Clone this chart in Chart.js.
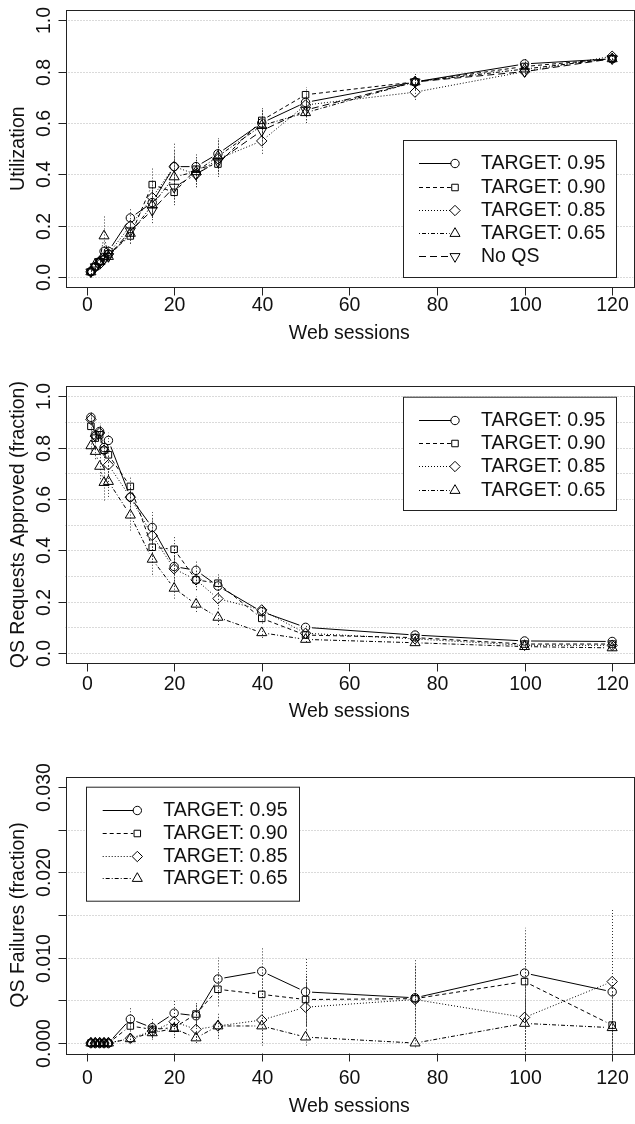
<!DOCTYPE html>
<html>
<head>
<meta charset="utf-8">
<script src="https://cdn.jsdelivr.net/npm/chart.js@4.4.1/dist/chart.umd.min.js"></script>
<style>
  html, body { margin: 0; padding: 0; background: #fff; width: 635px; height: 1124px; overflow: hidden; position: relative; }
  canvas { position: absolute; left: 0; }
  #c1 { top: 0; }
  #c2 { top: 375px; }
  #c3 { top: 750px; }
</style>
</head>
<body>
<canvas id="c1" width="640" height="375"></canvas>
<canvas id="c2" width="640" height="375"></canvas>
<canvas id="c3" width="640" height="374"></canvas>
<script>
// --- data ---
const sessions = [1, 2, 3, 4, 5, 10, 15, 20, 25, 30, 40, 50, 75, 100, 120];
const targets = ['TARGET: 0.95', 'TARGET: 0.90', 'TARGET: 0.85', 'TARGET: 0.65', 'No QS'];

const xTicks = [0, 20, 40, 60, 80, 100, 120];
const fracTicks = [0, 0.2, 0.4, 0.6, 0.8, 1.0];
const fracLabels = ['0.0', '0.2', '0.4', '0.6', '0.8', '1.0'];
const approvedGrid = [0, 0.1, 0.2, 0.3, 0.4, 0.5, 0.6, 0.7, 0.8, 0.9, 1.0];
const failTicks = [0, 0.005, 0.010, 0.015, 0.020, 0.025, 0.030];
const failLabels = ['0.000', '', '0.010', '', '0.020', '', '0.030'];
const failGrid = [0, 0.005, 0.010, 0.015, 0.020, 0.025];

// utilization
const util95 = [0.022, 0.04, 0.06, 0.10, 0.10, 0.23, 0.29, 0.43, 0.43, 0.48, 0.60, 0.68, 0.76, 0.83, 0.85];
const util90 = [0.020, 0.04, 0.06, 0.08, 0.09, 0.16, 0.36, 0.33, 0.42, 0.44, 0.61, 0.71, 0.76, 0.82, 0.85];
const util85 = [0.020, 0.04, 0.05, 0.07, 0.09, 0.20, 0.31, 0.43, 0.40, 0.46, 0.53, 0.67, 0.72, 0.80, 0.86];
const util65 = [0.020, 0.05, 0.06, 0.16, 0.08, 0.17, 0.28, 0.39, 0.41, 0.47, 0.59, 0.64, 0.76, 0.81, 0.85];
const utilNoQS = [0.020, 0.04, 0.06, 0.07, 0.08, 0.18, 0.26, 0.35, 0.40, 0.45, 0.57, 0.65, 0.76, 0.80, 0.85];
const utilErr95 = [0.01, 0.01, 0.015, 0.02, 0.02, 0.04, 0.06, 0.09, 0.05, 0.06, 0.05, 0.04, 0.03, 0.02, 0.015];
const utilErr90 = [0.01, 0.01, 0.015, 0.02, 0.02, 0.03, 0.07, 0.05, 0.05, 0.05, 0.05, 0.03, 0.03, 0.02, 0.015];
const utilErr85 = [0.01, 0.01, 0.015, 0.02, 0.02, 0.03, 0.06, 0.07, 0.05, 0.05, 0.05, 0.04, 0.03, 0.02, 0.015];
const utilErr65 = [0.01, 0.01, 0.015, 0.08, 0.02, 0.04, 0.05, 0.08, 0.05, 0.07, 0.06, 0.04, 0.03, 0.02, 0.015];
const utilErrNoQS = [0.01, 0.01, 0.015, 0.02, 0.02, 0.03, 0.05, 0.06, 0.05, 0.05, 0.05, 0.04, 0.03, 0.02, 0.015];

// QS requests approved
const appr95 = [0.918, 0.85, 0.863, 0.80, 0.828, 0.607, 0.489, 0.337, 0.322, 0.261, 0.161, 0.100, 0.070, 0.047, 0.045];
const appr90 = [0.883, 0.837, 0.85, 0.79, 0.772, 0.649, 0.412, 0.404, 0.285, 0.272, 0.135, 0.070, 0.060, 0.035, 0.035];
const appr85 = [0.910, 0.845, 0.857, 0.79, 0.733, 0.607, 0.458, 0.328, 0.285, 0.212, 0.168, 0.077, 0.055, 0.030, 0.030];
const appr65 = [0.807, 0.785, 0.727, 0.664, 0.668, 0.537, 0.365, 0.252, 0.190, 0.139, 0.079, 0.053, 0.040, 0.025, 0.020];
const apprErr95 = [0.02, 0.02, 0.03, 0.03, 0.03, 0.04, 0.06, 0.08, 0.04, 0.04, 0.02, 0.01, 0.01, 0.005, 0.005];
const apprErr90 = [0.02, 0.02, 0.03, 0.03, 0.03, 0.04, 0.06, 0.05, 0.04, 0.04, 0.02, 0.01, 0.01, 0.005, 0.005];
const apprErr85 = [0.02, 0.02, 0.03, 0.04, 0.04, 0.05, 0.07, 0.05, 0.04, 0.04, 0.02, 0.01, 0.01, 0.005, 0.005];
const apprErr65 = [0.03, 0.03, 0.05, 0.07, 0.06, 0.06, 0.06, 0.04, 0.03, 0.03, 0.02, 0.01, 0.01, 0.005, 0.005];

// QS failures
const fail95 = [0, 0, 0, 0, 0, 0.0028, 0.0018, 0.0035, 0.0032, 0.0075, 0.0084, 0.0060, 0.0053, 0.0082, 0.0060];
const fail90 = [0, 0, 0, 0, 0, 0.0020, 0.0016, 0.0018, 0.0034, 0.0063, 0.0057, 0.0051, 0.0052, 0.0072, 0.0021];
const fail85 = [0, 0, 0, 0, 0, 0.00055, 0.0014, 0.0025, 0.0016, 0.0020, 0.0027, 0.0042, 0.0051, 0.0030, 0.0072];
const fail65 = [0, 0, 0, 0, 0, 0.0005, 0.0012, 0.0017, 0.0006, 0.0020, 0.0020, 0.0007, 0, 0.0023, 0.0018];
const failErr95 = [0, 0, 0, 0, 0, 0.0013, 0.0012, 0.0015, 0.0013, 0.0025, 0.0027, 0.0040, 0.0045, 0.0053, 0.0060];
const failErr90 = [0, 0, 0, 0, 0, 0.0010, 0.0010, 0.0012, 0.0013, 0.0020, 0.0025, 0.0030, 0.0040, 0.0050, 0.0040];
const failErr85 = [0, 0, 0, 0, 0, 0.0005, 0.0008, 0.0012, 0.0010, 0.0015, 0.0030, 0.0030, 0.0040, 0.0045, 0.0086];
const failErr65 = [0, 0, 0, 0, 0, 0.0005, 0.0008, 0.0008, 0.0006, 0.0012, 0.0020, 0.0010, 0.0005, 0.0030, 0.0030];

// --- look: one marker / line type per series (R pch 1,0,5,2,6 and lty 1..5) ---
const marks = [
  { style: 'circle', r: 4.2, rot: 0, dash: [] },
  { style: 'rect', r: 4.6, rot: 0, dash: [4, 3] },
  { style: 'rectRot', r: 5.2, rot: 0, dash: [1, 2] },
  { style: 'triangle', r: 5.8, rot: 0, dash: [1, 2, 4, 2] },
  { style: 'triangle', r: 5.8, rot: 180, dash: [7, 4] }
];
const FONT = '19.5px "Liberation Sans", Arial, Helvetica, sans-serif';
const GAP = 6.5; // R type="b": lines stop short of the points

function series(values, errs) {
  return values.map((vals, i) => ({
    label: targets[i],
    data: sessions.map((s, j) => ({ x: s, y: vals[j] })),
    err: errs[i],
    dash: marks[i].dash,
    showLine: false,
    pointStyle: marks[i].style,
    pointRadius: marks[i].r,
    pointRotation: marks[i].rot,
    pointBorderColor: '#000',
    pointBackgroundColor: 'rgba(0,0,0,0)',
    pointBorderWidth: 1
  }));
}

// R-like frame: dotted grid, dotted CI bars, gapped lines, box, outside ticks, rotated y labels, boxed legend
function rPlot(cfg) {
  return {
    id: 'rPlot',
    beforeDatasetsDraw(chart) {
      const { ctx, chartArea: a, scales: { x, y } } = chart;
      ctx.save();
      ctx.lineWidth = 1;
      ctx.strokeStyle = '#b4b4b4';
      ctx.setLineDash([1, 2]);
      cfg.grid.forEach(v => {
        const py = Math.round(y.getPixelForValue(v)) + 0.5;
        ctx.beginPath(); ctx.moveTo(a.left, py); ctx.lineTo(a.right, py); ctx.stroke();
      });
      ctx.beginPath();
      ctx.rect(a.left, a.top, a.right - a.left, a.bottom - a.top);
      ctx.clip();
      ctx.strokeStyle = '#333';
      chart.data.datasets.forEach(ds => {
        ds.data.forEach((p, i) => {
          const e = ds.err[i];
          if (!e) return;
          const px = Math.round(x.getPixelForValue(p.x)) + 0.5;
          ctx.beginPath();
          ctx.moveTo(px, y.getPixelForValue(p.y - e));
          ctx.lineTo(px, y.getPixelForValue(p.y + e));
          ctx.stroke();
        });
      });
      // connecting lines, using the points the library placed
      ctx.strokeStyle = '#000';
      chart.data.datasets.forEach((ds, k) => {
        const pts = chart.getDatasetMeta(k).data;
        ctx.setLineDash(ds.dash);
        for (let i = 1; i < pts.length; i++) {
          const p0 = pts[i - 1], p1 = pts[i];
          const dx = p1.x - p0.x, dy = p1.y - p0.y, d = Math.hypot(dx, dy);
          if (d <= 2 * GAP) continue;
          const ux = dx / d, uy = dy / d;
          ctx.beginPath();
          ctx.moveTo(p0.x + ux * GAP, p0.y + uy * GAP);
          ctx.lineTo(p1.x - ux * GAP, p1.y - uy * GAP);
          ctx.stroke();
        }
      });
      ctx.restore();
    },
    afterDraw(chart) {
      const { ctx, chartArea: a, scales: { x, y } } = chart;
      ctx.save();
      ctx.setLineDash([]);
      ctx.lineWidth = 1;
      ctx.strokeStyle = '#222';
      ctx.strokeRect(Math.round(a.left) + 0.5, Math.round(a.top) + 0.5,
        Math.round(a.right - a.left), Math.round(a.bottom - a.top));

      ctx.fillStyle = '#111';
      ctx.font = FONT;
      ctx.textAlign = 'center';
      ctx.textBaseline = 'middle';
      const yb = Math.round(a.bottom) + 0.5;
      xTicks.forEach(v => {
        const px = Math.round(x.getPixelForValue(v)) + 0.5;
        ctx.beginPath(); ctx.moveTo(px, yb); ctx.lineTo(px, yb + 8); ctx.stroke();
        ctx.fillText(String(v), px, cfg.xLabelY);
      });
      ctx.fillText('Web sessions', (a.left + a.right) / 2, cfg.xTitleY);

      const xl = Math.round(a.left) + 0.5;
      cfg.ticks.forEach((v, i) => {
        const py = Math.round(y.getPixelForValue(v)) + 0.5;
        ctx.beginPath(); ctx.moveTo(xl - 8, py); ctx.lineTo(xl, py); ctx.stroke();
        if (!cfg.tickLabels[i]) return;
        ctx.save();
        ctx.translate(45, py);
        ctx.rotate(-Math.PI / 2);
        ctx.fillText(cfg.tickLabels[i], 0, 0);
        ctx.restore();
      });
      ctx.save();
      ctx.translate(19, (a.top + a.bottom) / 2);
      ctx.rotate(-Math.PI / 2);
      ctx.fillText(cfg.title, 0, 0);
      ctx.restore();

      // legend box
      const L = cfg.legend;
      ctx.fillStyle = '#fff';
      ctx.fillRect(L.left, L.top, L.right - L.left, L.bottom - L.top);
      ctx.strokeStyle = '#222';
      ctx.strokeRect(L.left + 0.5, L.top + 0.5, L.right - L.left, L.bottom - L.top);
      chart.data.datasets.forEach((ds, i) => {
        const ry = Math.round(L.row0 + i * L.step) + 0.5;
        const m = marks[i];
        ctx.strokeStyle = '#000';
        ctx.setLineDash(m.dash);
        ctx.beginPath(); ctx.moveTo(L.line0, ry); ctx.lineTo(L.sym - m.r + 0.5, ry); ctx.stroke();
        ctx.setLineDash([]);
        ctx.fillStyle = 'rgba(0,0,0,0)';
        Chart.helpers.drawPoint(ctx, { pointStyle: m.style, radius: m.r, rotation: m.rot, borderWidth: 1 }, L.sym, ry);
        ctx.fillStyle = '#111';
        ctx.textAlign = 'left';
        ctx.fillText(ds.label, L.text, ry + 0.5);
      });
      ctx.restore();
    }
  };
}

const panels = [
  {
    canvas: 'c1', title: 'Utilization',
    values: [util95, util90, util85, util65, utilNoQS],
    errs: [utilErr95, utilErr90, utilErr85, utilErr65, utilErrNoQS],
    yMin: -0.04, yMax: 1.04, ticks: fracTicks, tickLabels: fracLabels, grid: fracTicks,
    pad: { left: 65.5, top: 10, right: 2.8, bottom: 87.7 }, xLabelY: 306, xTitleY: 333.5,
    legend: { left: 403, top: 140, right: 616, bottom: 277, row0: 163.3, step: 23.2, line0: 419, sym: 455, text: 481 }
  },
  {
    canvas: 'c2', title: 'QS Requests Approved (fraction)',
    values: [appr95, appr90, appr85, appr65],
    errs: [apprErr95, apprErr90, apprErr85, apprErr65],
    yMin: -0.04, yMax: 1.04, ticks: fracTicks, tickLabels: fracLabels, grid: approvedGrid,
    pad: { left: 65.5, top: 11, right: 2.8, bottom: 86.7 }, xLabelY: 310, xTitleY: 337,
    legend: { left: 403, top: 21.7, right: 616, bottom: 135, row0: 45, step: 23.2, line0: 419, sym: 455, text: 481 }
  },
  {
    canvas: 'c3', title: 'QS Failures (fraction)',
    values: [fail95, fail90, fail85, fail65],
    errs: [failErr95, failErr90, failErr85, failErr65],
    yMin: -0.0012, yMax: 0.0312, ticks: failTicks, tickLabels: failLabels, grid: failGrid,
    pad: { left: 65.5, top: 26.7, right: 2.8, bottom: 70.7 }, xLabelY: 329, xTitleY: 357,
    legend: { left: 86, top: 36.7, right: 299, bottom: 150.7, row0: 60, step: 22.8, line0: 102.7, sym: 137.3, text: 163.3 }
  }
];

panels.forEach(p => {
  new Chart(document.getElementById(p.canvas), {
    type: 'line',
    data: { datasets: series(p.values, p.errs) },
    options: {
      responsive: false,
      animation: false,
      events: [],
      layout: { padding: p.pad },
      scales: {
        x: { type: 'linear', display: false, min: -4.8, max: 124.8 },
        y: { type: 'linear', display: false, min: p.yMin, max: p.yMax }
      },
      plugins: { legend: { display: false }, tooltip: { enabled: false } }
    },
    plugins: [rPlot(p)]
  });
});
</script>
</body>
</html>
